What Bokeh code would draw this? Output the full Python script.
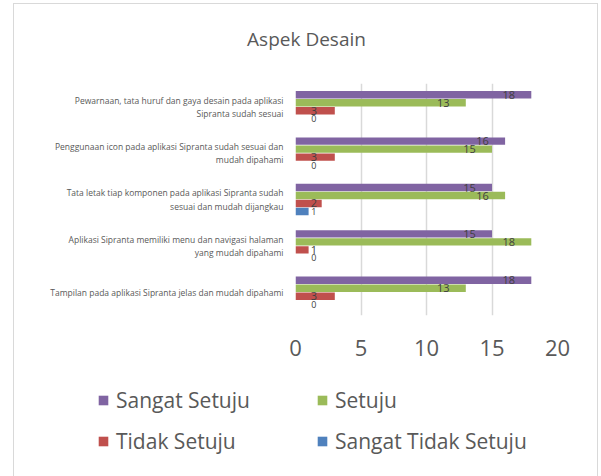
from bokeh.plotting import figure
from bokeh.layouts import column, row
from bokeh.models import (FactorRange, Range1d, ColumnDataSource, Legend, LegendItem,
                          FixedTicker, Label)
from bokeh.core.properties import value
from bokeh.transform import dodge
from bokeh.embed import file_html
from bokeh.resources import INLINE
import numpy as np

# ---- data (top-to-bottom order as in the chart) ----
categories = [
    "Pewarnaan, tata huruf dan gaya desain pada aplikasi\nSipranta sudah sesuai",
    "Penggunaan icon pada aplikasi Sipranta sudah sesuai dan\nmudah dipahami",
    "Tata letak tiap komponen pada aplikasi Sipranta sudah\nsesuai dan mudah dijangkau",
    "Aplikasi Sipranta memiliki menu dan navigasi halaman\nyang mudah dipahami",
    "Tampilan pada aplikasi Sipranta jelas dan mudah dipahami",
]
sangat_setuju = [18, 16, 15, 15, 18]
setuju = [13, 15, 16, 18, 13]
tidak_setuju = [3, 3, 2, 1, 3]
sangat_tidak_setuju = [0, 0, 1, 0, 0]
series_names = ["Sangat Setuju", "Setuju", "Tidak Setuju", "Sangat Tidak Setuju"]
x_ticks = [0, 5, 10, 15, 20]
title_text = "Aspek Desain"

colors = ["#8064A2", "#9BBB59", "#C0504D", "#4F81BD"]
series_values = [sangat_setuju, setuju, tidak_setuju, sangat_tidak_setuju]

FONT = "Open Sans"
GREY = "#595959"
W = 583


def bare(fig):
    fig.axis.visible = False
    fig.grid.visible = False
    fig.outline_line_color = None
    return fig


# ---- title strip ----
p0 = bare(figure(width=W, height=79, output_backend="svg", toolbar_location=None,
                 x_range=Range1d(0, W), y_range=Range1d(0, 79),
                 min_border_left=0, min_border_right=0, min_border_top=0,
                 min_border_bottom=0))
p0.add_layout(Label(x=292, y=45, text=title_text, text_align="center",
                    text_baseline="middle", text_font=FONT, text_font_size="19px",
                    text_color=GREY))

# ---- main chart ----
p = figure(width=W, height=291, output_backend="svg", toolbar_location=None,
           y_range=FactorRange(factors=list(reversed(categories)), range_padding=0),
           x_range=Range1d(0, 20), title=None,
           min_border_left=281, min_border_right=40, min_border_top=0, min_border_bottom=59)
p.outline_line_color = None
p.background_fill_color = "white"
p.border_fill_color = "white"

pitch = 0.1724
offsets = [1.5 * pitch, 0.5 * pitch, -0.5 * pitch, -1.5 * pitch]
for name, vals, col, off in zip(series_names, series_values, colors, offsets):
    v = np.array(vals, dtype=float)
    src = ColumnDataSource(dict(cat=categories, val=v,
                                lx=np.maximum(v - 1.72, 1.4),
                                lab=[str(int(a)) for a in v]))
    p.hbar(y=dodge("cat", off, range=p.y_range), right="val", left=0,
           height=pitch * 0.92, color=col, line_color=None, source=src)
    fs = "9px" if name == "Sangat Tidak Setuju" else "11px"
    p.text(x="lx", y=dodge("cat", off, range=p.y_range), text="lab", source=src,
           text_align="center", text_baseline="middle", text_font_size=fs,
           text_color="#404040", text_font=value(FONT))

p.xaxis.ticker = FixedTicker(ticks=x_ticks)
p.xaxis.axis_line_color = None
p.xaxis.major_tick_line_color = None
p.xaxis.minor_tick_line_color = None
p.xaxis.major_tick_out = 0
p.xaxis.major_label_standoff = 24
p.xaxis.major_label_text_font = FONT
p.xaxis.major_label_text_font_size = "22px"
p.xaxis.major_label_text_color = GREY

p.yaxis.axis_line_color = None
p.yaxis.major_tick_line_color = None
p.yaxis.minor_tick_line_color = None
p.yaxis.major_tick_out = 0
p.yaxis.major_label_standoff = 12
p.yaxis.major_label_text_font = FONT
p.yaxis.major_label_text_font_size = "8.5px"
p.yaxis.major_label_text_color = GREY

p.xgrid.grid_line_color = "#d9d9d9"
p.xgrid.grid_line_width = 1.5
p.ygrid.grid_line_color = None

# ---- legend strip ----
p2 = bare(figure(width=W, height=102, output_backend="svg", toolbar_location=None,
                 x_range=Range1d(0, 1), y_range=Range1d(0, 1),
                 min_border_left=0, min_border_right=0, min_border_top=0,
                 min_border_bottom=0))
swatches = [p2.hbar(y=[0], left=[0], right=[0], height=1, color=c, line_color=None)
            for c in colors]


def make_legend(idx, xloc):
    items = [LegendItem(label=series_names[i], renderers=[swatches[i]]) for i in idx]
    return Legend(items=items, location=(xloc, 21), orientation="vertical",
                  label_text_font=FONT, label_text_font_size="21px", label_text_color=GREY,
                  glyph_width=12, glyph_height=12, label_standoff=7, label_height=24,
                  spacing=13, padding=0, margin=0, border_line_alpha=0,
                  background_fill_alpha=0)


p2.add_layout(make_legend([0, 2], 83))
p2.add_layout(make_legend([1, 3], 302))

for fig in (p0, p, p2):
    if "frame_align" in fig.properties():
        fig.frame_align = False

layout = column(row(p0, spacing=0), p, row(p2, spacing=0), spacing=0)
layout.margin = (4, 0, 0, 14)
layout.styles = {"outline": "1.5px solid #d9d9d9"}

open("out.html", "w").write(file_html(layout, INLINE))
